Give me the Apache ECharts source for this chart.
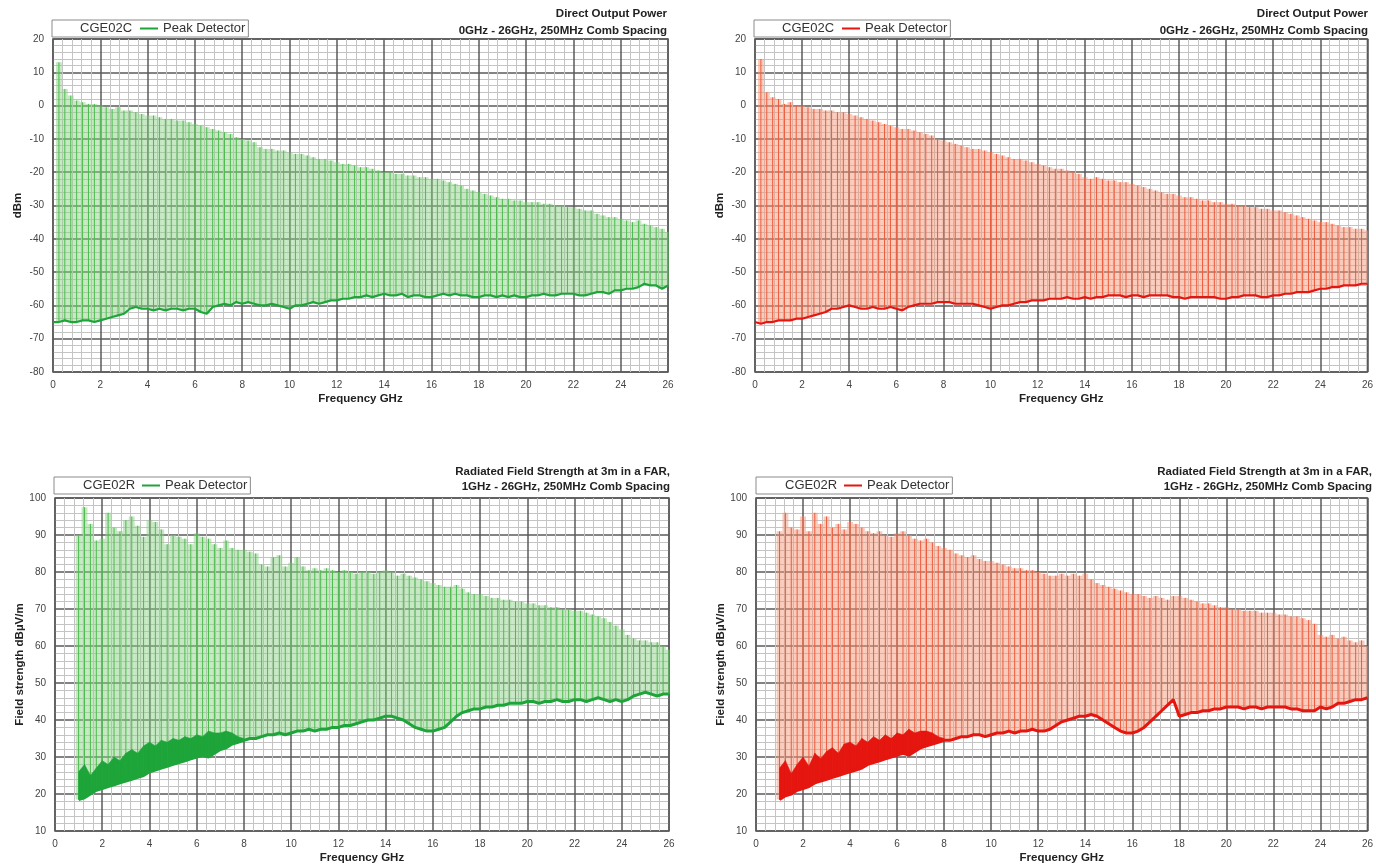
<!DOCTYPE html>
<html>
<head>
<meta charset="utf-8">
<script src="https://cdn.jsdelivr.net/npm/echarts@6/dist/echarts.min.js"></script>
<style>
  html, body { margin: 0; padding: 0; background: #fff; }
  #chart { width: 1376px; height: 867px; }
</style>
</head>
<body>
<div id="chart"></div>
<script>
// Comb generator spectra, 250 MHz line spacing, peak detector sweeps.
const COMB_SPACING = 0.25; // GHz

// Conducted (direct output) sweeps: samples from 0 GHz to 26 GHz, one per comb line.
const conductedStart = 0;
// Radiated (3 m, FAR) sweeps: samples from 1 GHz to 26 GHz.
const radiatedStart = 1;

// CGE02C, green trace: comb line peaks (dBm), null where no line exists (DC)
const cgeCGreenPeak = [
  null,
  13, 5, 3, 1.5,
  1, 0.5, 0.5, 0,
  -0.5, -1, -0.5, -1.5,
  -1.5, -2, -2.5, -3,
  -3, -3.5, -4, -4,
  -4.5, -4.5, -5, -5.5,
  -6, -6.5, -7, -7.5,
  -8, -8.5, -9.5, -10,
  -10.5, -11, -12.5, -13,
  -13, -13.5, -13.5, -14,
  -14.5, -14.5, -15, -15.5,
  -16, -16, -16.5, -17,
  -17.5, -17.5, -18, -18.5,
  -18.5, -19, -19.5, -20,
  -20, -20.5, -20.5, -21,
  -21, -21.5, -21.5, -22,
  -22, -22.5, -23, -23.5,
  -24, -25, -25.5, -26,
  -26.5, -27, -27.5, -28,
  -28, -28.5, -28.5, -29,
  -29, -29, -29.5, -29.5,
  -30, -30, -30.5, -30.5,
  -31, -31.5, -31.5, -32.5,
  -33, -33.5, -33.5, -34,
  -34.5, -35, -34.5, -35.5,
  -36, -36.5, -37, -38
];
// CGE02C, green trace: noise floor (dBm)
const cgeCGreenFloor = [
  -65, -65, -64.5, -65, -65,
  -64.5, -64.5, -65, -64.5,
  -64, -63.5, -63, -62.5,
  -61, -60.5, -61, -61,
  -61.5, -61, -61.5, -61,
  -61, -61.5, -61, -61,
  -62, -62.5, -60.5, -60,
  -59.5, -60, -59, -59.5,
  -59, -59.5, -60, -60,
  -59.5, -60, -60.5, -61,
  -60, -60, -59.5, -59,
  -59.5, -59, -58.5, -58.5,
  -58, -58, -57.5, -57.5,
  -57, -57.5, -57, -56.5,
  -57, -57, -56.5, -57.5,
  -57, -57, -57.5, -57.5,
  -57, -56.5, -57, -56.5,
  -57, -57, -57.5, -57.5,
  -57, -57, -57.5, -57,
  -57.5, -57, -57.5, -57.5,
  -57, -57, -56.5, -57,
  -57, -56.5, -56.5, -56.5,
  -57, -57, -56.5, -56,
  -56, -56.5, -55.5, -55.5,
  -55, -55, -54.5, -53.5,
  -54, -54, -55, -54
];

// CGE02C, red trace: comb line peaks (dBm)
const cgeCRedPeak = [
  null,
  14, 4, 2.5, 2,
  0.5, 1, 0, 0,
  -0.5, -1, -1, -1.5,
  -1.5, -2, -2, -2.5,
  -3, -3.5, -4, -4.5,
  -5, -5.5, -6, -6.5,
  -7, -7, -7.5, -8,
  -8.5, -9, -10, -10.5,
  -11, -11.5, -12, -12.5,
  -13, -13, -13.5, -14,
  -14.5, -15, -15.5, -16,
  -16, -16.5, -17, -17.5,
  -18, -18.5, -19, -19,
  -19.5, -20, -20.5, -21.5,
  -22, -21.5, -22, -22.5,
  -22.5, -23, -23, -23.5,
  -24, -24.5, -25, -25.5,
  -26, -26.5, -26.5, -27,
  -27.5, -27.5, -28, -28.5,
  -28.5, -29, -29, -29.5,
  -29.5, -30, -30, -30.5,
  -30.5, -31, -31, -31.5,
  -31.5, -32, -32.5, -33,
  -33.5, -34, -34.5, -35,
  -35, -35.5, -36, -36.5,
  -36.5, -37, -37, -37.5
];
// CGE02C, red trace: noise floor (dBm)
const cgeCRedFloor = [
  -65, -65.5, -65, -65, -64.5,
  -64.5, -64.5, -64, -64,
  -63.5, -63, -62.5, -62,
  -61, -61, -60.5, -60,
  -60.5, -61, -61, -60.5,
  -61, -61, -60.5, -61,
  -61.5, -60.5, -60, -59.5,
  -59.5, -59.5, -59, -59,
  -59, -59.5, -59.5, -59.5,
  -59.5, -60, -60.5, -61,
  -60.5, -60, -60, -59.5,
  -59, -59, -58.5, -58.5,
  -58.5, -58, -58, -58,
  -57.5, -58, -58, -57.5,
  -58, -57.5, -57.5, -57,
  -57, -57, -57.5, -57,
  -57, -57.5, -57, -57,
  -57, -57, -57.5, -57.5,
  -58, -57.5, -57.5, -57.5,
  -57.5, -57.5, -58, -58,
  -57.5, -57.5, -57, -57,
  -57, -57.5, -57.5, -57,
  -57, -56.5, -56.5, -56,
  -56, -56, -55.5, -55,
  -55, -54.5, -54.5, -54,
  -54, -54, -53.5, -53.5
];

// CGE02R, green trace: comb line peaks (dBuV/m)
const cgeRGreenPeak = [
  90,
  97.5, 93, 88.5, 89,
  96, 92, 91, 94,
  95, 92.5, 89.5, 94,
  93.5, 91.5, 87.5, 90,
  89.5, 89, 87.5, 90.5,
  89.5, 89, 87.5, 86.5,
  88.5, 86.5, 86, 86,
  85.5, 85, 82, 81.5,
  84, 84.5, 81.5, 82.5,
  84, 81.5, 80.5, 81,
  80.5, 81, 80.5, 80,
  80.5, 80, 79.5, 80,
  80, 79.5, 80, 80.5,
  80, 79, 79.5, 79,
  78.5, 78, 77.5, 77,
  76.5, 76, 76, 76.5,
  75.5, 74.5, 74, 74,
  73.5, 73, 73, 72.5,
  72.5, 72, 72, 71.5,
  71.5, 71, 71, 70.5,
  70.5, 70, 70, 69.5,
  69.5, 69, 68.5, 68,
  67.5, 66.5, 65.5, 64.5,
  63, 62, 61.5, 61.5,
  61, 61, 60, 59
];
// CGE02R, green trace: noise floor (dBuV/m)
const cgeRGreenFloor = [
  18.5,
  19, 20, 21, 21.5,
  22, 22.5, 23, 23.5,
  24, 24.5, 25, 26,
  26.5, 27, 27.5, 28,
  28.5, 29, 29.5, 30,
  30.5, 30, 31, 32,
  32.5, 33.5, 34, 34.5,
  35, 35, 35.5, 36,
  36, 36.5, 36, 36.5,
  37, 37, 37.5, 37,
  37.5, 37.5, 38, 38,
  38.5, 38.5, 39, 39.5,
  40, 40, 40.5, 41,
  41, 40.5, 40, 39,
  38, 37.5, 37, 37,
  37.5, 38, 39.5, 41,
  42, 42.5, 43, 43,
  43.5, 43.5, 44, 44,
  44.5, 44.5, 44.5, 45,
  45, 44.5, 45, 45,
  45.5, 45, 45, 45.5,
  45.5, 45, 45.5, 46,
  45.5, 45, 45.5, 45,
  45.5, 46.5, 47, 47.5,
  47, 46.5, 47, 47
];
// CGE02R, green trace: top of the dense noise band, 1 GHz to 8 GHz
const cgeRGreenNoise = [
  26,
  28, 25, 27, 29,
  28, 30, 29, 31,
  32, 31, 33, 34,
  33, 34.5, 34, 35,
  34.5, 35.5, 35, 36,
  35.5, 37, 36.5, 36.5,
  37, 36.5, 35.5, 35
];

// CGE02R, red trace: comb line peaks (dBuV/m)
const cgeRRedPeak = [
  91,
  96, 92, 91.5, 95,
  91, 96, 93, 95,
  92, 93, 91.5, 93.5,
  93, 92, 91, 90.5,
  91, 90, 89.5, 90.5,
  91, 90, 89, 88.5,
  89, 88, 87, 86.5,
  86, 85, 84.5, 84,
  84.5, 83.5, 83, 83,
  82.5, 82, 81.5, 81,
  81, 80.5, 80.5, 80,
  79.5, 79, 79, 79.5,
  79, 79.5, 79, 79.5,
  78, 77, 76.5, 76,
  75.5, 75, 74.5, 74,
  74, 73.5, 73, 73.5,
  73, 72.5, 73.5, 73.5,
  73, 72.5, 72, 71.5,
  71.5, 71, 70.5, 70.5,
  70, 70, 69.5, 69.5,
  69.5, 69, 69, 69,
  68.5, 68.5, 68, 68,
  67.5, 67, 66, 63,
  62.5, 63, 62, 62.5,
  61.5, 61, 61.5, 60
];
// CGE02R, red trace: noise floor (dBuV/m)
const cgeRRedFloor = [
  18.5,
  19.5, 20, 21, 21.5,
  22, 23, 23.5, 24,
  24.5, 25, 25.5, 26,
  26.5, 27, 28, 28.5,
  29, 29.5, 30, 30.5,
  31, 30.5, 31.5, 32.5,
  33, 33.5, 34, 34.5,
  34.5, 35, 35.5, 35.5,
  36, 36, 35.5, 36,
  36.5, 36.5, 37, 36.5,
  37, 37, 37.5, 37,
  37, 37.5, 38.5, 39.5,
  40, 40.5, 41, 41,
  41.5, 41, 40, 39,
  38, 37, 36.5, 36.5,
  37, 38, 39.5, 41,
  42.5, 44, 45.5, 41,
  41.5, 42, 42, 42.5,
  42.5, 43, 43, 43.5,
  43.5, 43.5, 43, 43.5,
  43.5, 43, 43.5, 43.5,
  43.5, 43.5, 43, 43,
  42.5, 42.5, 42.5, 43.5,
  43, 43.5, 44.5, 44.5,
  45, 45.5, 45.5, 46
];
// CGE02R, red trace: top of the dense noise band, 1 GHz to 8 GHz
const cgeRRedNoise = [
  27,
  29, 25.5, 28, 30,
  27.5, 31, 29.5, 31.5,
  32.5, 31, 33.5, 34,
  33, 35, 34, 35.5,
  34.5, 36, 35, 36.5,
  36, 37.5, 36.5, 37,
  37, 36.5, 35.5, 35
];

const xTickLabels = ['0','2','4','6','8','10','12','14','16','18','20','22','24','26'];

// ---------------------------------------------------------------------------

const GREEN = { spike: '#4dbb4f', fill: 'rgba(140,210,135,0.50)', floor: '#1ea53a' };
const RED   = { spike: '#ee5a3c', fill: 'rgba(246,150,120,0.50)', floor: '#e5150f' };

function combFreqs(start, count) {
  return Array.from({ length: count }, (_, i) => start + i * COMB_SPACING);
}

function combItems(start, floor, peak) {
  const f = combFreqs(start, floor.length);
  const out = [];
  for (let i = 0; i < floor.length; i++) {
    if (peak[i] != null) out.push([f[i], floor[i], peak[i]]);
  }
  return out;
}

function floorItems(start, floor) {
  const f = combFreqs(start, floor.length);
  return floor.map((v, i) => [f[i], v]);
}

function bandItems(start, floor, top) {
  const f = combFreqs(start, top.length);
  const out = [];
  for (let i = 0; i < top.length - 1; i++) {
    out.push([f[i], floor[i], top[i], f[i + 1], floor[i + 1], top[i + 1]]);
  }
  return out;
}

// Each comb line: a pale block half a spacing either side, plus the line itself.
function renderComb(colors) {
  return function (params, api) {
    const f = api.value(0), lo = api.value(1), hi = api.value(2);
    const h = COMB_SPACING / 2;
    const cs = params.coordSys;
    const a = api.coord([f - h, hi]);
    const b = api.coord([f + h, lo]);
    const x0 = Math.max(a[0], cs.x), x1 = Math.min(b[0], cs.x + cs.width);
    const top = api.coord([f, hi]);
    const bot = api.coord([f, lo]);
    return {
      type: 'group',
      children: [
        { type: 'rect', shape: { x: x0, y: a[1], width: x1 - x0, height: b[1] - a[1] },
          style: { fill: colors.fill } },
        { type: 'line', shape: { x1: top[0], y1: top[1], x2: bot[0], y2: bot[1] },
          style: { stroke: colors.spike, lineWidth: 1 } }
      ]
    };
  };
}

function renderBand(color) {
  return function (params, api) {
    const p1 = api.coord([api.value(0), api.value(1)]);
    const p2 = api.coord([api.value(3), api.value(4)]);
    const p3 = api.coord([api.value(3), api.value(5)]);
    const p4 = api.coord([api.value(0), api.value(2)]);
    return { type: 'polygon', shape: { points: [p1, p2, p3, p4] },
             style: { fill: color, stroke: color, lineWidth: 0.6 } };
  };
}

const grids = [
  { left: 53,  top: 39,  width: 615, height: 333 },
  { left: 755, top: 39,  width: 613, height: 333 },
  { left: 55,  top: 498, width: 614, height: 333 },
  { left: 756, top: 498, width: 613, height: 333 }
];

const axisLabelStyle = { color: '#444', fontSize: 10, fontFamily: 'Liberation Sans, Arial, sans-serif' };
const axisNameStyle = { color: '#222', fontSize: 11.5, fontWeight: 'bold', fontFamily: 'Liberation Sans, Arial, sans-serif' };

function xAxisFor(idx) {
  return {
    type: 'value', gridIndex: idx, min: 0, max: 26, interval: 2,
    name: 'Frequency GHz', nameLocation: 'middle', nameGap: 21, nameTextStyle: axisNameStyle,
    axisLine: { show: false }, axisTick: { show: false },
    axisLabel: { ...axisLabelStyle, margin: 8, formatter: v => xTickLabels[v / 2] },
    splitLine: { show: true, lineStyle: { color: '#5a5a5a', width: 1.5 } },
    minorTick: { show: false, splitNumber: 5 },
    minorSplitLine: { show: true, lineStyle: { color: '#c4c4c4', width: 1 } }
  };
}

function yAxisFor(idx, min, max, name) {
  return {
    type: 'value', gridIndex: idx, min, max, interval: 10,
    name, nameLocation: 'middle', nameGap: 29, nameTextStyle: axisNameStyle,
    axisLine: { show: false }, axisTick: { show: false },
    axisLabel: { ...axisLabelStyle, margin: 9 },
    splitLine: { show: true, lineStyle: { color: '#5a5a5a', width: 1.5 } },
    minorTick: { show: false, splitNumber: 5 },
    minorSplitLine: { show: true, lineStyle: { color: '#c4c4c4', width: 1 } }
  };
}

const panels = [
  { name: 'CGE02C green', label: 'CGE02C', start: conductedStart, peak: cgeCGreenPeak, floor: cgeCGreenFloor, colors: GREEN, floorWidth: 2.2 },
  { name: 'CGE02C red',   label: 'CGE02C', start: conductedStart, peak: cgeCRedPeak,   floor: cgeCRedFloor,   colors: RED,   floorWidth: 2.2 },
  { name: 'CGE02R green', label: 'CGE02R', start: radiatedStart,  peak: cgeRGreenPeak, floor: cgeRGreenFloor, noise: cgeRGreenNoise, colors: GREEN, floorWidth: 3 },
  { name: 'CGE02R red',   label: 'CGE02R', start: radiatedStart,  peak: cgeRRedPeak,   floor: cgeRRedFloor,   noise: cgeRRedNoise,   colors: RED,   floorWidth: 3 }
];

const series = [];
panels.forEach((p, k) => {
  series.push({
    type: 'custom', name: p.name + ' comb', xAxisIndex: k, yAxisIndex: k, z: 2,
    renderItem: renderComb(p.colors),
    encode: { x: 0, y: [1, 2] },
    data: combItems(p.start, p.floor, p.peak),
    silent: true, animation: false
  });
  if (p.noise) {
    series.push({
      type: 'custom', name: p.name + ' noise', xAxisIndex: k, yAxisIndex: k, z: 3,
      renderItem: renderBand(p.colors.floor),
      encode: { x: [0, 3], y: [1, 2, 4, 5] },
      data: bandItems(p.start, p.floor, p.noise),
      silent: true, animation: false
    });
  }
  series.push({
    type: 'line', name: p.name, xAxisIndex: k, yAxisIndex: k, z: 4,
    data: floorItems(p.start, p.floor),
    showSymbol: false, symbol: 'none',
    lineStyle: { color: p.colors.floor, width: p.floorWidth },
    itemStyle: { color: p.colors.floor },
    silent: true, animation: false
  });
});

const headStyle = { color: '#222', fontSize: 11.5, fontWeight: 'bold', fontFamily: 'Liberation Sans, Arial, sans-serif' };
const boxLabelStyle = { color: '#333', fontSize: 13, fontWeight: 'normal', fontFamily: 'Liberation Sans, Arial, sans-serif' };

const titles = [
  { text: 'Direct Output Power', right: 709, top: 8, padding: 0, textStyle: headStyle },
  { text: '0GHz - 26GHz, 250MHz Comb Spacing', right: 709, top: 25, padding: 0, textStyle: headStyle },
  { text: 'Direct Output Power', right: 8, top: 8, padding: 0, textStyle: headStyle },
  { text: '0GHz - 26GHz, 250MHz Comb Spacing', right: 8, top: 25, padding: 0, textStyle: headStyle },
  { text: 'Radiated Field Strength at 3m in a FAR,', right: 706, top: 466, padding: 0, textStyle: headStyle },
  { text: '1GHz - 26GHz, 250MHz Comb Spacing', right: 706, top: 481, padding: 0, textStyle: headStyle },
  { text: 'Radiated Field Strength at 3m in a FAR,', right: 4, top: 466, padding: 0, textStyle: headStyle },
  { text: '1GHz - 26GHz, 250MHz Comb Spacing', right: 4, top: 481, padding: 0, textStyle: headStyle },
  { text: panels[0].label, left: 80,  top: 22,  padding: 0, textStyle: boxLabelStyle },
  { text: panels[1].label, left: 782, top: 22,  padding: 0, textStyle: boxLabelStyle },
  { text: panels[2].label, left: 83,  top: 479, padding: 0, textStyle: boxLabelStyle },
  { text: panels[3].label, left: 785, top: 479, padding: 0, textStyle: boxLabelStyle }
];

const legendPos = [
  { left: 52,  top: 20 },
  { left: 754, top: 20 },
  { left: 54,  top: 477 },
  { left: 756, top: 477 }
];
const legends = panels.map((p, k) => ({
  ...legendPos[k],
  data: [p.name],
  formatter: () => 'Peak Detector',
  icon: 'rect', itemWidth: 18, itemHeight: 2,
  padding: [2, 3, 2, 88],
  borderColor: '#8a8a8a', borderWidth: 1, backgroundColor: '#fff',
  selectedMode: false,
  textStyle: { ...boxLabelStyle }
}));

const chart = echarts.init(document.getElementById('chart'), null, { renderer: 'canvas' });
chart.setOption({
  backgroundColor: '#ffffff',
  animation: false,
  title: titles,
  legend: legends,
  grid: grids.map(g => ({ ...g, show: true, borderColor: '#555', borderWidth: 1.5, backgroundColor: '#fff' })),
  xAxis: [0, 1, 2, 3].map(xAxisFor),
  yAxis: [
    yAxisFor(0, -80, 20, 'dBm'),
    yAxisFor(1, -80, 20, 'dBm'),
    yAxisFor(2, 10, 100, 'Field strength dBµV/m'),
    yAxisFor(3, 10, 100, 'Field strength dBµV/m')
  ],
  series
});
</script>
</body>
</html>
